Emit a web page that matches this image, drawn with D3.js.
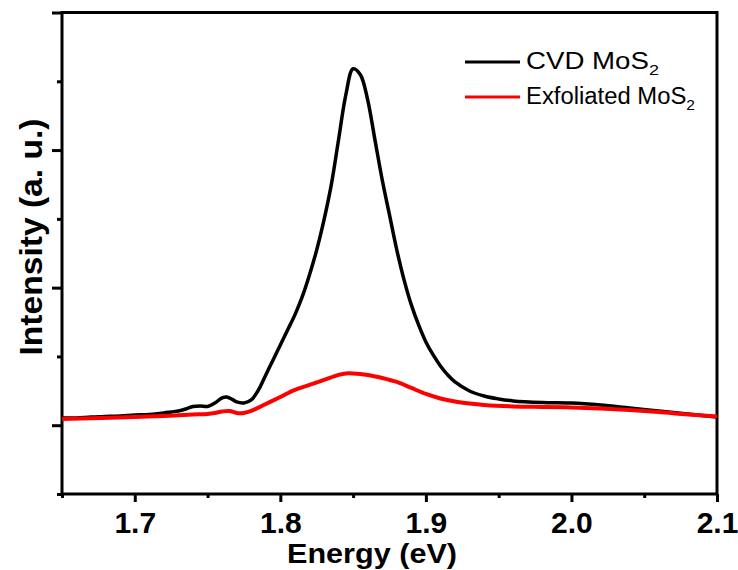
<!DOCTYPE html>
<html lang="en">
<head>
    <meta charset="UTF-8">
    <title>MoS2 PL spectra</title>
    <style>
        body { margin: 0; background: #fff; }
        svg { display: block; font-family: "Liberation Sans", Arial, sans-serif; }
        .tick text { font-weight: bold; font-size: 30px; fill: #000; }
    </style>
</head>
<body>
    <div id="chart"></div>
    <script src="https://d3js.org/d3.v7.min.js"></script>
    <script>
        // energy (eV) and intensity (a.u.)
        const cvdEnergy = [1.650, 1.660, 1.670, 1.680, 1.690, 1.700, 1.710, 1.720, 1.725, 1.730,
            1.735, 1.740, 1.745, 1.750, 1.755, 1.760, 1.763, 1.767, 1.770, 1.775,
            1.780, 1.785, 1.790, 1.795, 1.800, 1.805, 1.810, 1.815, 1.820, 1.825,
            1.830, 1.835, 1.840, 1.845, 1.850, 1.855, 1.860, 1.865, 1.870, 1.875,
            1.880, 1.885, 1.890, 1.895, 1.900, 1.905, 1.910, 1.915, 1.920, 1.930,
            1.940, 1.950, 1.960, 1.980, 2.000, 2.020, 2.040, 2.060, 2.080, 2.100];
        const cvdIntensity = [1105, 1105, 1120, 1127, 1135, 1149, 1156, 1178, 1193, 1207,
            1236, 1273, 1280, 1273, 1324, 1396, 1411, 1375, 1338, 1324,
            1367, 1513, 1731, 1949, 2167, 2385, 2604, 2865, 3185, 3549,
            3985, 4494, 5149, 5804, 6182, 6095, 5731, 5149, 4567, 4058,
            3549, 3113, 2749, 2458, 2211, 2022, 1862, 1731, 1629, 1498,
            1425, 1382, 1353, 1331, 1324, 1295, 1251, 1207, 1164, 1120];

        const exfEnergy = [1.650, 1.700, 1.720, 1.740, 1.750, 1.755, 1.760, 1.765, 1.770, 1.775,
            1.780, 1.790, 1.800, 1.810, 1.820, 1.830, 1.840, 1.845, 1.850, 1.860,
            1.870, 1.880, 1.890, 1.900, 1.910, 1.920, 1.930, 1.940, 1.960, 1.980,
            2.000, 2.020, 2.040, 2.060, 2.080, 2.100];
        const exfIntensity = [1091, 1120, 1135, 1156, 1164, 1178, 1200, 1207, 1178, 1178,
            1207, 1309, 1411, 1513, 1585, 1658, 1731, 1753, 1753, 1731,
            1687, 1629, 1542, 1455, 1389, 1345, 1316, 1295, 1273, 1265,
            1258, 1244, 1222, 1193, 1156, 1127];

        const xMajor = [1.7, 1.8, 1.9, 2.0, 2.1];
        const xMinor = [1.65, 1.75, 1.85, 1.95, 2.05];
        const yMajor = [1000, 3000, 5000, 7000];
        const yMinor = [0, 2000, 4000, 6000];

        const legendNames = ["CVD MoS", "Exfoliated MoS"];
        const legendColors = ["#000000", "#ff0000"];

        const width = 738, height = 570;
        const plotLeft = 62, plotRight = 717, plotTop = 12.5, plotBottom = 494;

        const svg = d3.select("#chart").append("svg")
            .attr("width", width).attr("height", height);

        const x = d3.scaleLinear().domain([1.65, 2.1]).range([plotLeft, plotRight]);
        const y = d3.scaleLinear().domain([0, 7000]).range([plotBottom, plotTop]);

        // minor ticks
        svg.append("g")
            .attr("transform", "translate(0," + plotBottom + ")")
            .call(d3.axisBottom(x).tickValues(xMinor).tickSize(4).tickFormat(""))
            .call(g => g.select(".domain").remove())
            .selectAll("line").attr("stroke-width", 3);
        svg.append("g")
            .attr("transform", "translate(" + plotLeft + ",0)")
            .call(d3.axisLeft(y).tickValues(yMinor).tickSize(5).tickFormat(""))
            .call(g => g.select(".domain").remove())
            .selectAll("line").attr("stroke-width", 3);

        // major ticks
        const xAxis = svg.append("g")
            .attr("transform", "translate(0," + plotBottom + ")")
            .call(d3.axisBottom(x).tickValues(xMajor).tickSize(8).tickPadding(10).tickFormat(d3.format(".1f")))
            .call(g => g.select(".domain").remove());
        xAxis.selectAll("line").attr("stroke-width", 3);
        svg.append("g")
            .attr("transform", "translate(" + plotLeft + ",0)")
            .call(d3.axisLeft(y).tickValues(yMajor).tickSize(10).tickFormat(""))
            .call(g => g.select(".domain").remove())
            .selectAll("line").attr("stroke-width", 3);

        // frame
        svg.append("rect")
            .attr("x", plotLeft).attr("y", plotTop)
            .attr("width", plotRight - plotLeft).attr("height", plotBottom - plotTop)
            .attr("fill", "none").attr("stroke", "#000").attr("stroke-width", 3);

        const line = d3.line()
            .x(d => x(d[0]))
            .y(d => y(d[1]))
            .curve(d3.curveCatmullRom.alpha(0.5));

        svg.append("path")
            .datum(d3.zip(cvdEnergy, cvdIntensity))
            .attr("d", line)
            .attr("fill", "none").attr("stroke", legendColors[0])
            .attr("stroke-width", 3.5).attr("stroke-linejoin", "round");

        svg.append("path")
            .datum(d3.zip(exfEnergy, exfIntensity))
            .attr("d", line)
            .attr("fill", "none").attr("stroke", legendColors[1])
            .attr("stroke-width", 4).attr("stroke-linejoin", "round");

        // axis titles
        svg.append("text")
            .attr("x", 372).attr("y", 563)
            .attr("text-anchor", "middle")
            .attr("font-size", 28).attr("font-weight", "bold")
            .attr("textLength", 170).attr("lengthAdjust", "spacingAndGlyphs")
            .text("Energy (eV)");

        svg.append("text")
            .attr("transform", "translate(42,237) rotate(-90)")
            .attr("text-anchor", "middle")
            .attr("font-size", 32).attr("font-weight", "bold")
            .attr("textLength", 237).attr("lengthAdjust", "spacingAndGlyphs")
            .text("Intensity (a. u.)");

        // legend
        const legendWidths = [133, 169];
        const legend = svg.append("g");
        legendNames.forEach((name, i) => {
            const ly = 62 + i * 35;
            legend.append("line")
                .attr("x1", 465).attr("x2", 520)
                .attr("y1", ly).attr("y2", ly)
                .attr("stroke", legendColors[i]).attr("stroke-width", 3);
            const t = legend.append("text")
                .attr("x", 526).attr("y", ly + 7)
                .attr("font-size", 23).attr("fill", "#000")
                .attr("textLength", legendWidths[i]).attr("lengthAdjust", "spacingAndGlyphs");
            t.append("tspan").text(name);
            t.append("tspan").attr("font-size", 15).attr("dy", 6).text("2");
        });
    </script>
</body>
</html>
